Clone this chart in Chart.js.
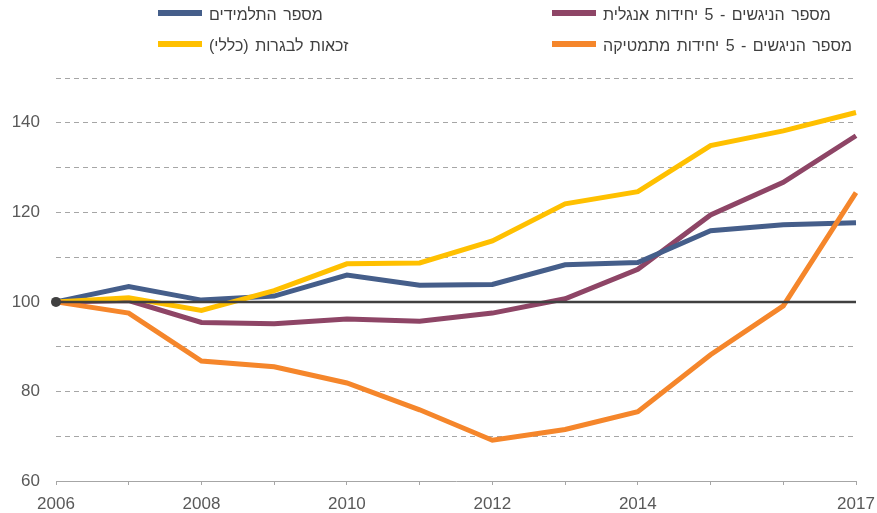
<!DOCTYPE html>
<html>
<head>
<meta charset="utf-8">
<script src="https://cdn.jsdelivr.net/npm/chart.js@4/dist/chart.umd.min.js"></script>
<style>
  html, body { margin: 0; padding: 0; background: #fff; }
  #wrap { width: 877px; height: 513px; }
</style>
</head>
<body>
<div id="wrap"><canvas id="chart" width="877" height="513"></canvas></div>
<script>
// years on the x axis
const years = [2006, 2007, 2008, 2009, 2010, 2011, 2012, 2013, 2014, 2015, 2016, 2017];

// index values, 2006 = 100
const students = [100, 103.4, 100.4, 101.3, 106, 103.7, 103.9, 108.3, 108.8, 115.9, 117.2, 117.7];
const english5 = [100, 100.3, 95.4, 95.1, 96.2, 95.7, 97.5, 100.7, 107.3, 119.4, 126.7, 137.1];
const bagrut = [100, 100.9, 98.1, 102.5, 108.5, 108.7, 113.6, 121.9, 124.6, 134.9, 138.2, 142.3];
const math5 = [100, 97.5, 86.8, 85.5, 81.9, 75.9, 69.1, 71.5, 75.5, 88.2, 99.1, 124.4];
const baseline = years.map(() => 100);

const seriesNames = [
  'מספר התלמידים',
  'מספר הניגשים - 5 יחידות אנגלית',
  'זכאות לבגרות (כללי)',
  'מספר הניגשים - 5 יחידות מתמטיקה'
];
const seriesColors = ['#455E8A', '#8E4566', '#FFC000', '#F5862B'];
const fontFamily = '"Liberation Sans", Arial, sans-serif';

// legend drawn by hand: two columns, swatch left of RTL text
const legendPlugin = {
  id: 'hebLegend',
  afterDraw(chart) {
    const ctx = chart.ctx;
    const cells = [
      { i: 0, x: 158, y: 13 },
      { i: 1, x: 552, y: 13 },
      { i: 2, x: 158, y: 44 },
      { i: 3, x: 552, y: 44 }
    ];
    ctx.save();
    cells.forEach(c => {
      ctx.fillStyle = seriesColors[c.i];
      ctx.fillRect(c.x, c.y - 3, 44, 6);
      ctx.fillStyle = '#404040';
      ctx.font = '16px ' + fontFamily;
      ctx.wordSpacing = '2px';
      ctx.direction = 'rtl';
      ctx.textAlign = 'left';
      ctx.textBaseline = 'middle';
      ctx.fillText(seriesNames[c.i], c.x + 51, c.y + 3);
    });
    ctx.restore();
  }
};

const lineStyle = { borderWidth: 5, pointRadius: 0, tension: 0, fill: false, borderCapStyle: 'butt', borderJoinStyle: 'miter' };

new Chart(document.getElementById('chart'), {
  type: 'line',
  data: {
    labels: years,
    datasets: [
      { label: 'base', data: baseline, borderColor: '#404040', borderWidth: 2.5,
        pointRadius: years.map((y, i) => i === 0 ? 5 : 0), pointBackgroundColor: '#404040',
        pointBorderWidth: 0, order: 0 },
      Object.assign({ label: seriesNames[3], data: math5, borderColor: seriesColors[3], order: 1 }, lineStyle),
      Object.assign({ label: seriesNames[2], data: bagrut, borderColor: seriesColors[2], order: 2 }, lineStyle),
      Object.assign({ label: seriesNames[0], data: students, borderColor: seriesColors[0], order: 3 }, lineStyle),
      Object.assign({ label: seriesNames[1], data: english5, borderColor: seriesColors[1], order: 4 }, lineStyle)
    ]
  },
  options: {
    responsive: false,
    animation: false,
    layout: { padding: { top: 78, right: 21, left: 0, bottom: 0 } },
    plugins: { legend: { display: false }, tooltip: { enabled: false } },
    scales: {
      x: {
        offset: false,
        grid: { drawOnChartArea: false, drawTicks: true, tickLength: 4, color: '#A6A6A6' },
        border: { display: true, color: '#A6A6A6', width: 1 },
        ticks: {
          autoSkip: false, maxRotation: 0, padding: 9,
          color: '#595959', font: { family: fontFamily, size: 17 },
          callback: function (v, i) {
            const y = years[i];
            return (y % 2 === 0 && y !== 2016) || y === 2017 ? String(y) : '';
          }
        },
        afterFit(s) { s.height = 32; s.paddingLeft = 0; s.paddingRight = 0; }
      },
      y: {
        min: 60, max: 150,
        border: { display: false, dash: [5, 4] },
        grid: {
          drawTicks: false,
          color: c => (c.tick && c.tick.value === 60) ? 'rgba(0,0,0,0)' : '#A6A6A6',
          lineWidth: 1
        },
        ticks: {
          stepSize: 10, padding: 16,
          color: '#595959', font: { family: fontFamily, size: 17 },
          callback: v => v % 20 === 0 ? String(v) : ''
        },
        afterFit(s) { s.width = 56; }
      }
    }
  },
  plugins: [legendPlugin]
});
</script>
</body>
</html>
